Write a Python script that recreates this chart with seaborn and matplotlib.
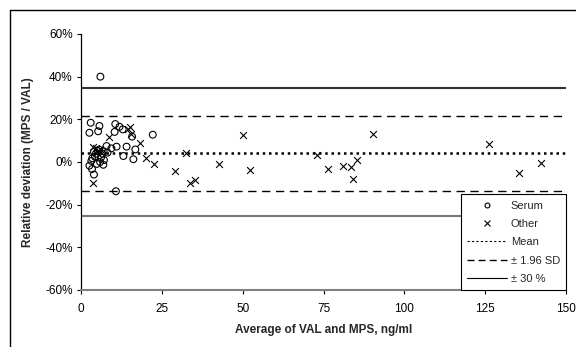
import numpy as np
import pandas as pd
import matplotlib
matplotlib.use("Agg")
import matplotlib.pyplot as plt
import seaborn as sns
from matplotlib.lines import Line2D
from matplotlib.ticker import FuncFormatter

# ---- data ----
serum_x = [6.0, 3.0, 5.7, 2.6, 5.3, 10.6, 10.4, 12.9, 15.8, 22.2, 7.9, 11.0, 14.1, 16.8,
           13.1, 16.2, 2.6, 3.4, 4.0, 7.1, 6.9, 4.9, 5.9, 10.8, 4.0, 4.6, 5.2, 6.6, 5.6,
           7.0, 3.5, 4.3, 3.2, 9.4, 6.2, 8.2, 11.9]
serum_y = [40.0, 18.4, 16.9, 13.7, 14.4, 17.8, 14.1, 15.3, 11.9, 12.8, 7.5, 7.2, 7.2, 5.9,
           2.8, 1.3, -1.7, -3.3, -5.9, 0.9, -1.3, -0.9, 0.0, -13.7, 4.8, 3.9, 5.2, 3.9, 5.8,
           5.0, 1.8, 2.5, 0.5, 6.4, 2.2, 4.4, 16.5]

other_x = [3.6, 4.6, 6.0, 8.6, 15.0, 15.4, 18.2, 20.1, 22.6, 3.6, 29.0, 32.5, 33.7, 35.2,
           42.8, 50.0, 52.3, 72.9, 76.4, 80.9, 83.4, 85.5, 84.0, 90.4, 126.1, 135.4, 142.4,
           14.5, 5.0]
other_y = [7.2, 6.7, 6.2, 11.6, 16.6, 13.0, 8.8, 1.9, -0.9, -10.0, -4.4, 4.1, -10.0, -8.4,
           -0.9, 12.5, -3.75, 3.4, -3.4, -1.9, -2.2, 0.9, -8.1, 13.1, 8.4, -5.3, -0.6,
           15.5, 4.6]

mean_dev = 4.0
sd_upper = 21.6
sd_lower = -13.5
lim_upper = 34.5
lim_lower = -25.3

x_ticks = [0, 25, 50, 75, 100, 125, 150]
y_ticks = [-60, -40, -20, 0, 20, 40, 60]

serum = pd.DataFrame({"avg": serum_x, "dev": serum_y})
other = pd.DataFrame({"avg": other_x, "dev": other_y})

# ---- style ----
sns.set_style("white")
plt.rcParams["font.family"] = ["Liberation Sans", "DejaVu Sans"]

fig = plt.figure(figsize=(5.76, 3.47), dpi=100)
ax = fig.add_axes([81 / 576, 1 - 290 / 347, 485 / 576, 256 / 347])

# reference lines
ax.axhline(mean_dev, color="black", linestyle=(0, (1, 1.5)), linewidth=1.8, zorder=1)
ax.axhline(sd_upper, color="black", linestyle=(0, (6, 4)), linewidth=1.0, zorder=1)
ax.axhline(sd_lower, color="black", linestyle=(0, (6, 4)), linewidth=1.0, zorder=1)
ax.axhline(lim_upper, color="#333333", linestyle="-", linewidth=1.5, zorder=1)
ax.axhline(lim_lower, color="#777777", linestyle="-", linewidth=1.5, zorder=1)

# points
sns.scatterplot(data=serum, x="avg", y="dev", marker="o", s=24,
                facecolors="none", edgecolor="black", linewidth=0.8, ax=ax, zorder=3)
sns.scatterplot(data=other, x="avg", y="dev", marker="x", s=24,
                color="black", linewidth=0.8, ax=ax, zorder=3)

ax.set_xlim(0, 150)
ax.set_ylim(-60, 60)
ax.set_xticks(x_ticks)
ax.set_yticks(y_ticks)
ax.yaxis.set_major_formatter(FuncFormatter(lambda v, p: f"{v:.0f}%"))
ax.tick_params(axis="both", which="major", labelsize=8.5, direction="out",
               length=3, width=0.8, colors="black", left=True, bottom=True, pad=3)
ax.tick_params(axis="x", pad=6)

for side in ["top", "right"]:
    ax.spines[side].set_visible(False)
ax.spines["left"].set_color("black")
ax.spines["left"].set_linewidth(0.9)
ax.spines["bottom"].set_color("#808080")
ax.spines["bottom"].set_linewidth(1.5)

ax.set_xlabel("Average of VAL and MPS, ng/ml", fontsize=8.5, fontweight="bold", labelpad=7)
ax.set_ylabel("Relative deviation (MPS / VAL)", fontsize=8.5, fontweight="bold", labelpad=8)

handles = [
    Line2D([], [], marker="o", linestyle="none", markerfacecolor="none",
           markeredgecolor="black", markersize=3.5, markeredgewidth=0.8),
    Line2D([], [], marker="x", linestyle="none", color="black", markersize=4,
           markeredgewidth=0.8),
    Line2D([], [], color="black", linestyle=(0, (2, 2)), linewidth=0.8),
    Line2D([], [], color="black", linestyle=(0, (5, 3)), linewidth=1.0),
    Line2D([], [], color="black", linestyle="-", linewidth=0.8),
]
labels = ["Serum", "Other", "Mean", "± 1.96 SD", "± 30 %"]
leg = ax.legend(handles, labels, loc="lower right", bbox_to_anchor=(1.0, 0.0),
                borderaxespad=0, fontsize=8, frameon=True, fancybox=False,
                framealpha=1, edgecolor="black", handlelength=3.6, handletextpad=0.3,
                labelspacing=0.75, borderpad=0.55)
leg.get_frame().set_linewidth(0.8)

# outer chart border (clipped at right/bottom in the reference)
fig.add_artist(Line2D([10 / 576, 10 / 576], [0, 1 - 10 / 347], color="black",
                      linewidth=1.0, transform=fig.transFigure))
fig.add_artist(Line2D([10 / 576, 1], [1 - 10 / 347, 1 - 10 / 347], color="black",
                      linewidth=1.0, transform=fig.transFigure))

fig.savefig("out.png", dpi=100)
